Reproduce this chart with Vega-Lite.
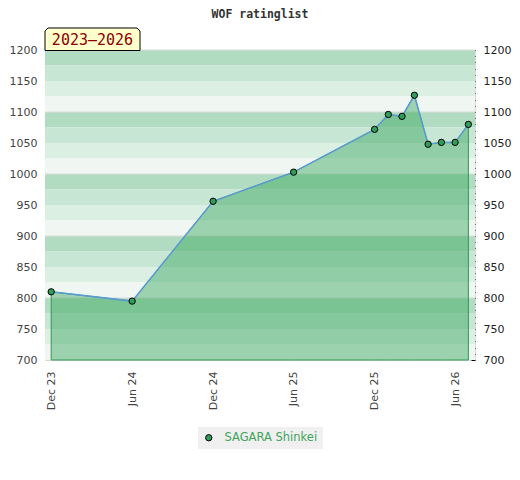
{
  "$schema": "https://vega.github.io/schema/vega-lite/v6.json",
  "width": 430,
  "height": 310,
  "autosize": {"type": "none"},
  "padding": {"left": 45, "top": 50, "right": 45, "bottom": 120},
  "background": "white",
  "config": {"view": {"stroke": "#d8d8d8", "strokeWidth": 1}},
  "title": {
    "text": "WOF ratinglist",
    "font": "DejaVu Sans Mono",
    "fontSize": 11.5,
    "fontWeight": "bold",
    "color": "#333333",
    "anchor": "middle",
    "offset": 5
  },
  "datasets": {
    "ratings": [
      {"date": "2023-12-01", "rating": 810, "player": "SAGARA Shinkei"},
      {"date": "2024-06-01", "rating": 795, "player": "SAGARA Shinkei"},
      {"date": "2024-12-01", "rating": 956, "player": "SAGARA Shinkei"},
      {"date": "2025-06-01", "rating": 1003, "player": "SAGARA Shinkei"},
      {"date": "2025-12-01", "rating": 1072, "player": "SAGARA Shinkei"},
      {"date": "2026-01-01", "rating": 1096, "player": "SAGARA Shinkei"},
      {"date": "2026-02-01", "rating": 1093, "player": "SAGARA Shinkei"},
      {"date": "2026-03-01", "rating": 1127, "player": "SAGARA Shinkei"},
      {"date": "2026-04-01", "rating": 1048, "player": "SAGARA Shinkei"},
      {"date": "2026-05-01", "rating": 1051, "player": "SAGARA Shinkei"},
      {"date": "2026-06-01", "rating": 1051, "player": "SAGARA Shinkei"},
      {"date": "2026-07-01", "rating": 1080, "player": "SAGARA Shinkei"}
    ],
    "bands": [
      {"lo": 1175, "hi": 1200, "level": 0},
      {"lo": 1150, "hi": 1175, "level": 1},
      {"lo": 1125, "hi": 1150, "level": 2},
      {"lo": 1100, "hi": 1125, "level": 3},
      {"lo": 1075, "hi": 1100, "level": 0},
      {"lo": 1050, "hi": 1075, "level": 1},
      {"lo": 1025, "hi": 1050, "level": 2},
      {"lo": 1000, "hi": 1025, "level": 3},
      {"lo": 975, "hi": 1000, "level": 0},
      {"lo": 950, "hi": 975, "level": 1},
      {"lo": 925, "hi": 950, "level": 2},
      {"lo": 900, "hi": 925, "level": 3},
      {"lo": 875, "hi": 900, "level": 0},
      {"lo": 850, "hi": 875, "level": 1},
      {"lo": 825, "hi": 850, "level": 2},
      {"lo": 800, "hi": 825, "level": 3},
      {"lo": 775, "hi": 800, "level": 0},
      {"lo": 750, "hi": 775, "level": 1},
      {"lo": 725, "hi": 750, "level": 2},
      {"lo": 700, "hi": 725, "level": 3}
    ],
    "label": [{"text": "2023–2026"}]
  },
  "resolve": {"axis": {"y": "independent", "x": "independent"}},
  "layer": [
    {
      "data": {"name": "bands"},
      "mark": {"type": "rect"},
      "encoding": {
        "y": {
          "field": "lo", "type": "quantitative",
          "scale": {"domain": [700, 1200], "zero": false, "nice": false},
          "axis": {
            "orient": "left",
            "values": [700, 750, 800, 850, 900, 950, 1000, 1050, 1100, 1150, 1200],
            "format": "d",
            "ticks": false, "domain": false, "grid": false,
            "labelPadding": 8, "labelFont": "DejaVu Sans", "labelFontSize": 11,
            "labelColor": "#444444", "title": null
          }
        },
        "y2": {"field": "hi"},
        "fill": {
          "field": "level", "type": "ordinal",
          "scale": {"domain": [0, 1, 2, 3], "range": ["#b2dcc2", "#c8e6d4", "#dcefe3", "#f0f7f2"]},
          "legend": null
        }
      }
    },
    {
      "data": {"name": "bands"},
      "transform": [{"filter": "datum.level === 0"}],
      "mark": {"type": "rule", "color": "#dcdcdc", "strokeWidth": 1},
      "encoding": {
        "y": {"field": "hi", "type": "quantitative", "scale": {"domain": [700, 1200], "zero": false, "nice": false}, "axis": null}
      }
    },
    {
      "data": {"name": "ratings"},
      "mark": {"type": "area", "fill": "#36a45c", "fillOpacity": 0.45, "stroke": "#2f9a52", "strokeWidth": 1, "strokeOpacity": 1},
      "encoding": {
        "x": {
          "field": "date", "type": "temporal",
          "scale": {"type": "utc", "domain": [{"year": 2023, "month": 11, "date": 17, "utc": true}, {"year": 2026, "month": 7, "date": 16, "utc": true}]},
          "axis": {
            "orient": "bottom",
            "values": [
              {"year": 2023, "month": 12, "date": 1, "utc": true},
              {"year": 2024, "month": 6, "date": 1, "utc": true},
              {"year": 2024, "month": 12, "date": 1, "utc": true},
              {"year": 2025, "month": 6, "date": 1, "utc": true},
              {"year": 2025, "month": 12, "date": 1, "utc": true},
              {"year": 2026, "month": 6, "date": 1, "utc": true}
            ],
            "format": "%b %y",
            "labelAngle": 270, "ticks": false, "domain": false, "grid": false,
            "labelPadding": 11, "labelFont": "DejaVu Sans", "labelFontSize": 11,
            "labelColor": "#444444", "labelOverlap": false, "title": null
          }
        },
        "y": {"field": "rating", "type": "quantitative", "scale": {"domain": [700, 1200], "zero": false, "nice": false}, "axis": null},
        "y2": {"datum": 700}
      }
    },
    {
      "data": {"name": "ratings"},
      "mark": {"type": "line", "color": "#5b9bd5", "strokeWidth": 1.5},
      "encoding": {
        "x": {"field": "date", "type": "temporal", "axis": null},
        "y": {"field": "rating", "type": "quantitative", "scale": {"domain": [700, 1200], "zero": false, "nice": false}, "axis": null}
      }
    },
    {
      "data": {"name": "ratings"},
      "mark": {"type": "point", "filled": true, "size": 40, "stroke": "#000000", "strokeWidth": 1, "opacity": 1},
      "encoding": {
        "x": {"field": "date", "type": "temporal", "axis": null},
        "y": {
          "field": "rating", "type": "quantitative",
          "scale": {"domain": [700, 1200], "zero": false, "nice": false},
          "axis": {
            "orient": "right",
            "values": [700, 710, 720, 730, 740, 750, 760, 770, 780, 790, 800, 810, 820, 830, 840, 850, 860, 870, 880, 890, 900, 910, 920, 930, 940, 950, 960, 970, 980, 990, 1000, 1010, 1020, 1030, 1040, 1050, 1060, 1070, 1080, 1090, 1100, 1110, 1120, 1130, 1140, 1150, 1160, 1170, 1180, 1190, 1200],
            "labelExpr": "datum.value % 50 === 0 ? format(datum.value, 'd') : ''",
            "offset": -4, "tickSize": 4, "tickColor": "#000000", "tickWidth": 1,
            "domain": false, "grid": false, "labelOverlap": false, "labelFlush": false,
            "labelPadding": 8, "labelFont": "DejaVu Sans", "labelFontSize": 11,
            "labelColor": "#222222", "title": null
          }
        },
        "color": {
          "field": "player", "type": "nominal",
          "scale": {"domain": ["SAGARA Shinkei"], "range": ["#2f9e58"]},
          "legend": {
            "orient": "none", "legendX": 153, "legendY": 377, "title": null,
            "fillColor": "#f0f0f0", "padding": 5,
            "symbolType": "circle", "symbolSize": 40, "symbolStrokeColor": "#000000", "symbolStrokeWidth": 1,
            "labelColor": "#3ea55f", "labelFont": "DejaVu Sans", "labelFontSize": 11.5, "labelOffset": 10
          }
        }
      }
    },
    {
      "data": {"name": "label"},
      "mark": {
        "type": "point",
        "shape": "M-1,0.237 L-1,-0.174 L-0.937,-0.237 L0.937,-0.237 L1,-0.174 L1,0.237 Z",
        "size": 9025, "filled": true, "fill": "#ffffcc", "stroke": "#000000", "strokeWidth": 1, "opacity": 1,
        "xOffset": 47.5, "yOffset": -10.75
      },
      "encoding": {
        "x": {"datum": {"year": 2023, "month": 11, "date": 17, "utc": true}, "type": "temporal", "axis": null},
        "y": {"datum": 1200, "type": "quantitative", "axis": null}
      }
    },
    {
      "data": {"name": "label"},
      "mark": {
        "type": "text", "font": "DejaVu Sans Mono", "fontSize": 15,
        "color": "#8b0000", "align": "center", "baseline": "alphabetic", "dx": 47.5, "dy": -5
      },
      "encoding": {
        "x": {"datum": {"year": 2023, "month": 11, "date": 17, "utc": true}, "type": "temporal", "axis": null},
        "y": {"datum": 1200, "type": "quantitative", "axis": null},
        "text": {"field": "text", "type": "nominal"}
      }
    }
  ]
}
